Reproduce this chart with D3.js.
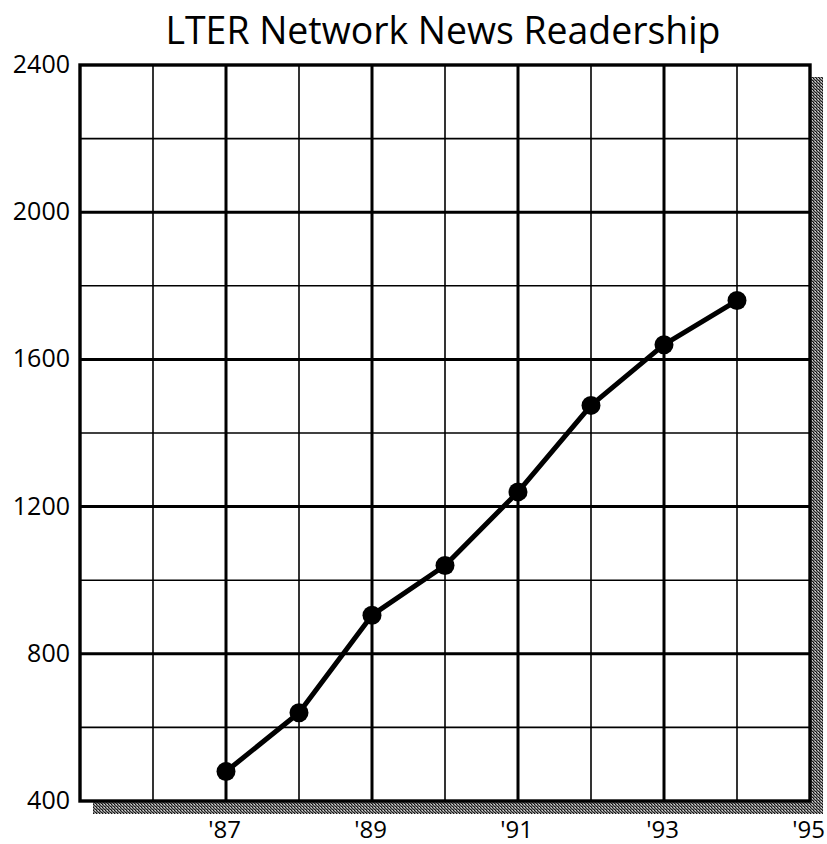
<!DOCTYPE html>
<html lang="en">
<head>
    <meta charset="UTF-8">
    <title>LTER Network News Readership</title>
    <script src="https://d3js.org/d3.v7.min.js"></script>
    <style>
        body {
            margin: 0px;
            background: #fff;
        }
        text {
            font-family: "Open Sans", "DejaVu Sans", sans-serif;
            fill: #000;
        }
    </style>
</head>
<body>
    <svg id="chart" width="827" height="844"></svg>
    <script>
        // data
        const years = [1987, 1988, 1989, 1990, 1991, 1992, 1993, 1994];
        const readers = [480, 640, 905, 1040, 1240, 1475, 1640, 1760];
        const xTickYears = [1987, 1989, 1991, 1993, 1995];
        const yTickValues = [400, 800, 1200, 1600, 2000, 2400];
        const majorYears = [1987, 1989, 1991, 1993];
        const minorYears = [1986, 1988, 1990, 1992, 1994];
        const majorValues = [800, 1200, 1600, 2000];
        const minorValues = [600, 1000, 1400, 1800, 2200];

        const svg = d3.select('#chart');
        const pLeft = 80, pTop = 65, pRight = 810, pBottom = 801;

        const x = d3.scaleLinear([1985, 1995], [pLeft, pRight]);
        const y = d3.scaleLinear([400, 2400], [pBottom, pTop]);

        // dithered shadow
        const defs = svg.append('defs');
        const pat = defs.append('pattern')
            .attr('id', 'dots')
            .attr('width', 3).attr('height', 3)
            .attr('patternUnits', 'userSpaceOnUse');
        pat.append('rect').attr('width', 3).attr('height', 3).attr('fill', '#8e8e8e');
        pat.append('rect').attr('width', 1).attr('height', 1).attr('fill', '#111');
        pat.append('rect').attr('x', 1).attr('y', 1).attr('width', 1).attr('height', 1).attr('fill', '#2a2a2a');
        pat.append('rect').attr('x', 2).attr('y', 2).attr('width', 1).attr('height', 1).attr('fill', '#1c1c1c');
        pat.append('rect').attr('x', 2).attr('y', 0).attr('width', 1).attr('height', 1).attr('fill', '#d0d0d0');
        pat.append('rect').attr('x', 0).attr('y', 2).attr('width', 1).attr('height', 1).attr('fill', '#555');

        svg.append('rect')
            .attr('x', pLeft + 13).attr('y', pTop + 12)
            .attr('width', pRight - pLeft).attr('height', pBottom - pTop + 1)
            .attr('fill', 'url(#dots)');

        svg.append('rect')
            .attr('x', pLeft).attr('y', pTop)
            .attr('width', pRight - pLeft).attr('height', pBottom - pTop)
            .attr('fill', '#fff');

        // grid
        const grid = svg.append('g');
        grid.selectAll('.vmin').data(minorYears).enter().append('line')
            .attr('x1', d => x(d)).attr('x2', d => x(d))
            .attr('y1', pTop).attr('y2', pBottom)
            .attr('stroke', '#000').attr('stroke-width', 1.6);
        grid.selectAll('.vmaj').data(majorYears).enter().append('line')
            .attr('x1', d => x(d)).attr('x2', d => x(d))
            .attr('y1', pTop).attr('y2', pBottom)
            .attr('stroke', '#000').attr('stroke-width', 3);
        grid.selectAll('.hmin').data(minorValues).enter().append('line')
            .attr('x1', pLeft).attr('x2', pRight)
            .attr('y1', d => y(d)).attr('y2', d => y(d))
            .attr('stroke', '#000').attr('stroke-width', 1.6);
        grid.selectAll('.hmaj').data(majorValues).enter().append('line')
            .attr('x1', pLeft).attr('x2', pRight)
            .attr('y1', d => y(d)).attr('y2', d => y(d))
            .attr('stroke', '#000').attr('stroke-width', 3);

        // frame
        svg.append('rect')
            .attr('x', pLeft).attr('y', pTop)
            .attr('width', pRight - pLeft).attr('height', pBottom - pTop)
            .attr('fill', 'none')
            .attr('stroke', '#000')
            .attr('stroke-width', 3.4);

        // line + points
        const pts = years.map((d, i) => [d, readers[i]]);
        const lineGen = d3.line().x(d => x(d[0])).y(d => y(d[1]));
        svg.append('path')
            .attr('d', lineGen(pts))
            .attr('fill', 'none')
            .attr('stroke', '#000')
            .attr('stroke-width', 5)
            .attr('stroke-linejoin', 'round');
        svg.selectAll('.pt').data(pts).enter().append('circle')
            .attr('cx', d => x(d[0]))
            .attr('cy', d => y(d[1]))
            .attr('r', 9.5)
            .attr('fill', '#000');

        // axes (labels only)
        const yAxis = svg.append('g')
            .attr('transform', `translate(${pLeft - 10},0)`)
            .call(d3.axisLeft(y).tickValues(yTickValues).tickSize(0).tickPadding(0).tickFormat(d3.format('d')));
        yAxis.select('.domain').remove();
        yAxis.selectAll('text')
            .attr('font-size', 25)
            .attr('font-family', '"Open Sans", sans-serif')
            .attr('dy', '0.3em');

        const xAxis = svg.append('g')
            .attr('transform', `translate(-2,${pBottom + 20})`)
            .call(d3.axisBottom(x).tickValues(xTickYears).tickSize(0).tickPadding(0)
                .tickFormat(d => "'" + String(d).slice(2)));
        xAxis.select('.domain').remove();
        xAxis.selectAll('text')
            .attr('font-size', 24)
            .attr('font-family', '"Open Sans", sans-serif')
            .attr('dy', '0.72em');

        // title
        svg.append('text')
            .attr('x', 443)
            .attr('y', 44)
            .attr('text-anchor', 'middle')
            .attr('font-size', 38)
            .attr('textLength', 555)
            .attr('lengthAdjust', 'spacingAndGlyphs')
            .text('LTER Network News Readership');
    </script>
</body>
</html>
